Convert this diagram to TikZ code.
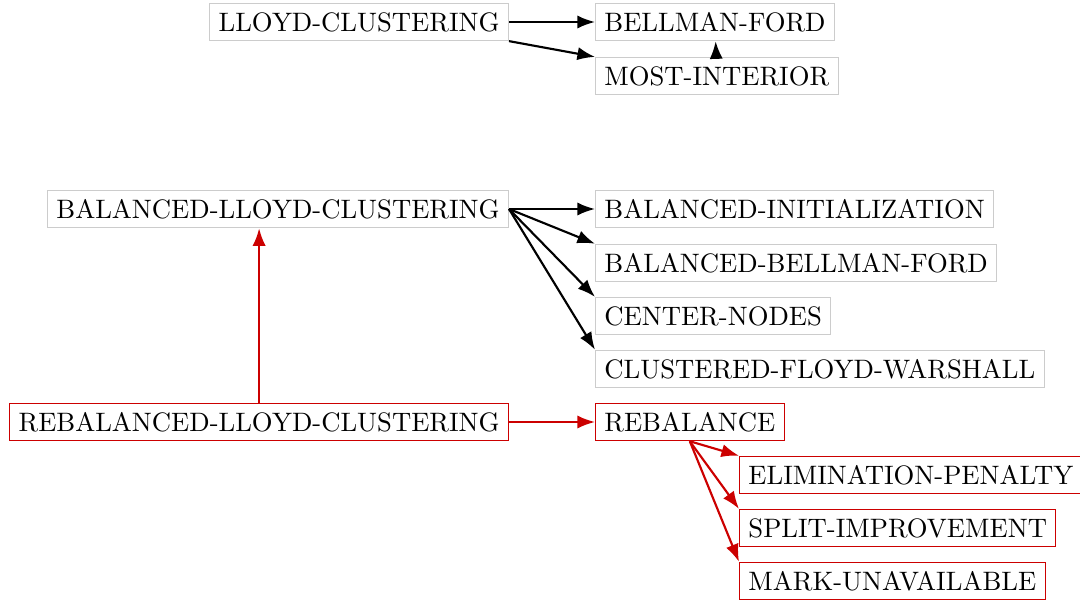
\documentclass[tikz,border=0pt]{standalone}
\usepackage{xcolor}
\usepackage{tikz}
\usetikzlibrary{arrows.meta,positioning,calc}
\definecolor{callred}{RGB}{204,0,0}
\tikzset{
  proc/.style={rectangle, draw=black!20, line width=0.4pt, inner sep=0.3333em, font=\normalsize},
  newproc/.style={proc, draw=callred},
  call/.style={-Latex, line width=0.8pt, draw=black},
  newcall/.style={-Latex, line width=0.8pt, draw=callred}
}
\begin{document}
\begin{tikzpicture}[x=0.375pt, y=0.375pt]
  \useasboundingbox (0,0) rectangle (1080,-600);

  % Original algorithm
  \node[proc, anchor=east] (lloyd) at (509,-22) {LLOYD-CLUSTERING};
  \node[proc, anchor=west] (bellman) at (595,-22) {BELLMAN-FORD};
  \node[proc, anchor=west] (interior) at (595,-76) {MOST-INTERIOR};

  % Balanced variant
  \node[proc, anchor=east] (balanced) at (509,-209) {BALANCED-LLOYD-CLUSTERING};
  \node[proc, anchor=west] (balinit) at (595,-209) {BALANCED-INITIALIZATION};
  \node[proc, anchor=west] (balbf) at (595,-263) {BALANCED-BELLMAN-FORD};
  \node[proc, anchor=west] (centers) at (595,-316) {CENTER-NODES};
  \node[proc, anchor=west] (floyd) at (595,-369) {CLUSTERED-FLOYD-WARSHALL};

  % Rebalanced variant (new, in red)
  \node[newproc, anchor=east] (rebalanced) at (509,-422) {REBALANCED-LLOYD-CLUSTERING};
  \node[newproc, anchor=west] (rebalance) at (595,-422) {REBALANCE};
  \node[newproc, anchor=west] (penalty) at (739,-475) {ELIMINATION-PENALTY};
  \node[newproc, anchor=west] (split) at (739,-528) {SPLIT-IMPROVEMENT};
  \node[newproc, anchor=west] (unavail) at (739,-581) {MARK-UNAVAILABLE};

  % Calls
  \draw[call] (lloyd.east) -- (bellman.west);
  \draw[call] (lloyd.south east) -- (interior.north west);
  \draw[call] (interior) -- (bellman);

  \draw[call] (balanced.east) -- (balinit.west);
  \draw[call] (balanced.east) -- (balbf.north west);
  \draw[call] (balanced.east) -- (centers.north west);
  \draw[call] (balanced.east) -- (floyd.north west);

  \draw[newcall] (rebalanced.north) -- (rebalanced.north |- balanced.south);
  \draw[newcall] (rebalanced.east) -- (rebalance.west);
  \draw[newcall] (rebalance.south) -- (penalty.north west);
  \draw[newcall] (rebalance.south) -- (split.north west);
  \draw[newcall] (rebalance.south) -- (unavail.north west);
\end{tikzpicture}
\end{document}
